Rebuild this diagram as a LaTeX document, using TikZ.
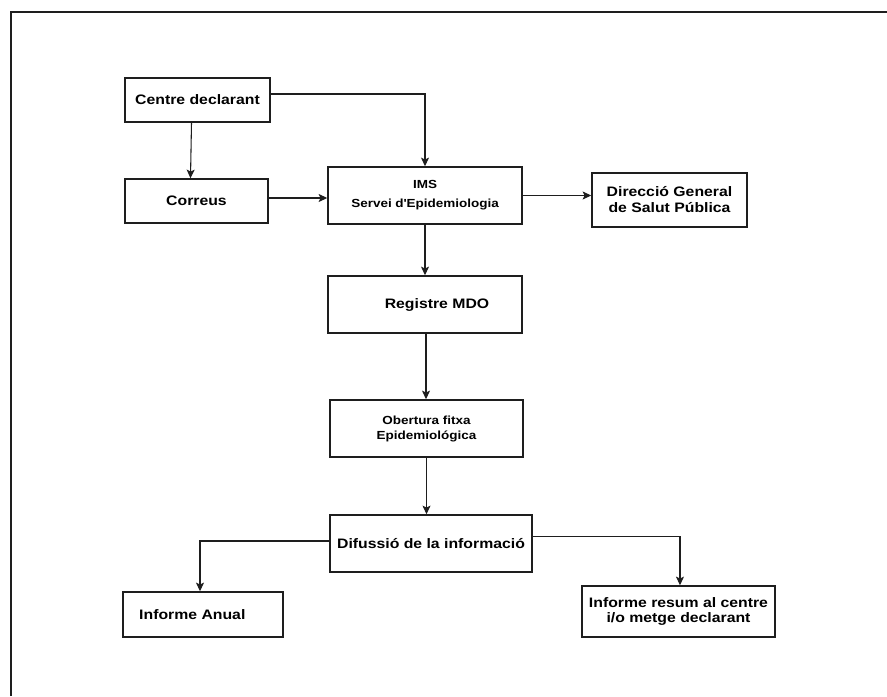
\documentclass[tikz,border=0pt]{standalone}
\usepackage{fontspec}
\setmainfont{Liberation Sans}[FakeStretch=1.15]
\usetikzlibrary{arrows.meta}
\definecolor{linecolor}{HTML}{1E1E1E}
\tikzset{
  mdo frame/.style={linecolor,line width=1.5pt},
  mdo box/.style={draw=linecolor,line width=1.1pt,inner sep=1pt,align=center,
    font=\fontsize{10.3}{12}\selectfont\bfseries},
  mdo small/.style={font=\fontsize{8.8}{14.25}\selectfont\bfseries},
  mdo arrow/.style={linecolor,line width=.8pt,-{Stealth[length=6.5pt,width=6pt,inset=1.5pt]}}
}
\begin{document}
\begin{tikzpicture}[x=.75pt,y=-.75pt]
  \useasboundingbox (0,0) rectangle (887,696);
  \draw[mdo frame] (10.5,696) -- (10.5,11.5) -- (887,11.5);
  \node[mdo box,minimum width=108.75pt,minimum height=33pt] (centre) at (197.5,100) {Centre declarant};
  \node[mdo box,minimum width=107.25pt,minimum height=33pt] (correus) at (196.5,201) {Correus};
  \node[mdo box,mdo small,minimum width=145.5pt,minimum height=42.75pt] (ims) at (425,195.5) {IMS\\Servei d\textquotesingle Epidemiologia};
  \node[mdo box,minimum width=116.25pt,minimum height=40.5pt] (dgsp) at (669.5,200) {Direcció General\\de Salut Pública};
  \node[mdo box,minimum width=145.5pt,minimum height=42.75pt] (registre) at (425,304.5) {\hspace*{18pt}Registre MDO};
  \node[mdo box,font=\fontsize{8.8}{11.25}\selectfont\bfseries,minimum width=144.75pt,minimum height=42.75pt] (obertura) at (426.5,428.5) {Obertura fitxa\\Epidemiológica};
  \node[mdo box,minimum width=151.5pt,minimum height=42.75pt] (difusio) at (431,543.5) {Difussió de la informació};
  \node[mdo box,minimum width=120pt,minimum height=33.75pt] (anual) at (203,614.5) {Informe Anual\hspace*{16pt}};
  \node[mdo box,font=\fontsize{10.3}{11.25}\selectfont\bfseries,minimum width=144.75pt,minimum height=38.25pt] (resum) at (678.5,611.5) {Informe resum al centre\\i/o metge declarant};

  \draw[mdo arrow] ([xshift=-4.5pt]centre.south) -- ([xshift=-4.5pt]correus.north);
  \draw[mdo arrow] ([yshift=4.5pt]centre.east) -| (ims.north);
  \draw[mdo arrow] ([yshift=2.25pt]correus.east) -- ([yshift=2.25pt]correus.east -| ims.west);
  \draw[mdo arrow] (ims.east) -- (ims.east -| dgsp.west);
  \draw[mdo arrow] (ims.south) -- (registre.north);
  \draw[mdo arrow] ([xshift=.75pt]registre.south) -- ([xshift=.75pt]registre.south |- obertura.north);
  \draw[mdo arrow] (obertura.south) -- (obertura.south |- difusio.north);
  \draw[mdo arrow] ([yshift=1.9pt]difusio.west) -| ([xshift=-2.25pt]anual.north);
  \draw[mdo arrow] ([yshift=5.6pt]difusio.east) -| ([xshift=1.1pt]resum.north);
\end{tikzpicture}
\end{document}
